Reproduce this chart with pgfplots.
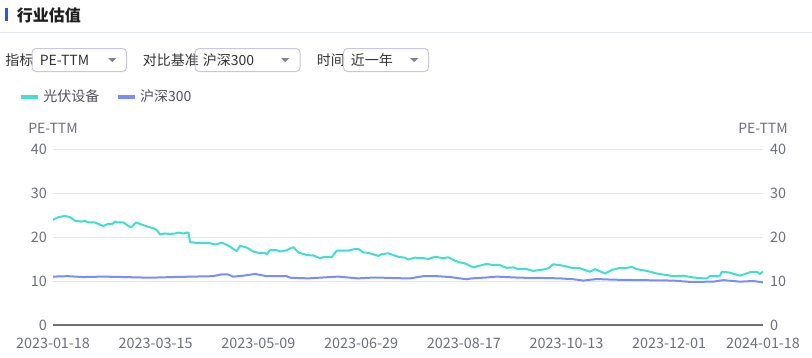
\documentclass[border=0pt]{standalone}
\usepackage{pgfplots}
\pgfplotsset{compat=1.18}
\usepackage{pgfplotstable}
\usepackage{fontspec}
\setmainfont{Noto Sans CJK SC}
\definecolor{cyanline}{RGB}{64,224,208}
\definecolor{blueline}{RGB}{122,140,255}
\definecolor{axisgray}{RGB}{110,112,121}
\definecolor{gridgray}{RGB}{226,230,241}
\definecolor{titleblue}{RGB}{47,84,235}
\definecolor{boxgray}{RGB}{200,200,216}
\definecolor{textdark}{RGB}{51,51,51}
\definecolor{legtext}{RGB}{80,80,92}
\definecolor{trigray}{RGB}{130,130,145}
\newcommand{\fs}[1]{\fontsize{#1}{#1}\selectfont}

% x = position along the year (0 = 2023-01-18, 710 = 2024-01-18)
\pgfplotstableread{
x y
0 23.9
5.3 24.5
12 24.8
17 24.5
22 23.7
28.7 23.5
32 23.7
35.3 23.3
42 23.3
50.3 22.5
55.3 23.0
58.7 22.9
62 23.5
65.3 23.3
70.3 23.3
77 22.3
78.7 22.3
83 23.3
90.3 22.7
97 22.2
100.3 22.0
103.7 21.6
107 20.6
112 20.8
117 20.7
122 20.8
125.3 21.0
130.3 20.8
133.7 21.0
135.5 21.0
137 18.8
140.3 18.8
143.7 18.6
152 18.7
157 18.6
162 18.3
168.7 18.7
172 18.4
177 17.8
183.7 16.8
187 18.0
193.7 17.6
200.3 16.7
205.3 16.4
212 16.4
213.7 16.1
217 17.0
223.7 17.0
227 16.7
233.7 17.0
240.3 17.7
245.3 16.5
253.7 15.9
260.3 15.8
267 15.2
272 15.5
278.7 15.4
283.7 16.9
288.7 16.9
295.3 16.9
300.3 17.2
305.3 17.3
310.3 16.5
315.3 16.4
325.3 15.7
328.7 16.1
335.3 16.3
340.3 15.9
345.3 15.5
352 15.3
355.3 14.9
362 15.3
370.3 15.2
375.3 15.0
382 15.5
390.3 15.2
395.3 15.4
400.3 14.8
405.3 14.3
412 14.0
420.3 13.1
425.3 13.4
433.7 13.9
440.3 13.6
447 13.6
453.7 13.0
460.3 13.1
465.3 12.7
473.7 12.7
480 12.3
487 12.5
490.3 12.6
495.3 12.9
500.3 13.8
507 13.6
513.7 13.3
520.3 12.9
527 12.9
537 12.1
542 12.7
552 11.7
558.7 12.5
567 13.0
572 12.9
578.7 13.2
583.7 12.7
593.7 12.3
603.7 11.7
620.3 11.1
630.3 11.2
640.3 10.8
650.3 10.6
654 10.6
657 11.1
667 11.2
668.7 12.1
677 11.9
687 11.2
697 12.0
703.7 12.1
707 11.6
710 12.2
}\pvtable

\pgfplotstableread{
x y
0 11.0
15 11.1
30 10.9
50 11.0
70 10.9
97 10.75
120 10.9
140 11.0
160 11.1
168.7 11.5
175 11.5
180 11.0
190 11.2
202 11.6
213.7 11.1
233.7 11.1
237 10.75
255 10.6
270 10.8
285 11.0
305 10.6
322 10.8
352 10.6
357 10.6
370.3 11.1
383.7 11.1
397 10.9
413.7 10.4
418.7 10.6
433.7 10.8
443.7 11.0
467 10.75
487 10.7
507 10.6
520.3 10.4
527 10.2
530.3 10.1
543.7 10.45
560 10.3
587 10.2
620 10.1
637 9.8
660.3 9.85
670.3 10.2
687 9.85
700 10.0
710 9.7
}\hstable

\begin{document}
\begin{tikzpicture}
\begin{scope}[x=0.75pt,y=-0.75pt]
\path[use as bounding box, fill=white] (0,0) rectangle (812,357);
% title
\fill[titleblue] (5,8) rectangle (7.5,21);
\node[anchor=west, inner sep=0pt, text=black!88] at (16.5,15) {\fs{12pt}\bfseries 行业估值};
\draw[gridgray, line width=0.75pt] (0,32) -- (812,32);
% controls
\node[anchor=west,inner sep=0pt,text=textdark] at (5,60) {\fs{10.5pt}指标};
\draw[boxgray, rounded corners=3pt, line width=0.75pt] (32,48.5) rectangle (126.5,71.5);
\node[anchor=west,inner sep=0pt,text=textdark] at (39.5,60) {\fs{10.5pt}PE-TTM};
\fill[trigray] (108,58) -- (116.5,58) -- (112.25,62) -- cycle;

\node[anchor=west,inner sep=0pt,text=textdark] at (142.5,60) {\fs{10.5pt}对比基准};
\draw[boxgray, rounded corners=3pt, line width=0.75pt] (195,48.5) rectangle (300,71.5);
\node[anchor=west,inner sep=0pt,text=textdark] at (202.5,60) {\fs{10.5pt}沪深300};
\fill[trigray] (281,58) -- (289.5,58) -- (285.25,62) -- cycle;

\node[anchor=west,inner sep=0pt,text=textdark] at (316.5,60) {\fs{10.5pt}时间};
\draw[boxgray, rounded corners=3pt, line width=0.75pt] (343.5,48.5) rectangle (428.5,71.5);
\node[anchor=west,inner sep=0pt,text=textdark] at (350.5,60) {\fs{10.5pt}近一年};
\fill[trigray] (410,58) -- (418.5,58) -- (414.25,62) -- cycle;
\end{scope}

\begin{axis}[
  at={(39.75pt,-243.75pt)}, anchor=south west,
  scale only axis, width=532.5pt, height=132pt,
  xmin=0, xmax=710, ymin=0, ymax=40,
  clip mode=individual,
  axis line style={draw=none},
  ytick={0,10,20,30,40},
  xtick={0,102.7,205.4,308.1,410.8,513.5,616.2,710},
  xticklabels={2023-01-18,2023-03-15,2023-05-09,2023-06-29,2023-08-17,2023-10-13,2023-12-01,2024-01-18},
  major tick length=0pt,
  ymajorgrids, grid style={gridgray, line width=0.75pt},
  tick label style={font=\fs{10.8pt}, text=axisgray},
  /pgf/number format/assume math mode=true,
  yticklabel style={xshift=-1pt},
  xticklabel style={yshift=-6.25pt},
  legend style={at={(-0.0475,1.2955)}, anchor=west, draw=none, fill=none,
    inner sep=0pt, outer sep=0pt, font=\fs{10.5pt}, text=legtext,
    legend columns=2, nodes={inner sep=0pt},
    /tikz/every odd column/.append style={column sep=3pt},
    /tikz/every even column/.append style={column sep=12.5pt}},
  legend image code/.code={\draw[#1,line width=2.3pt] (0pt,0pt) -- (12.75pt,0pt);},
]
\addplot[cyanline, line width=1.5pt, line join=round] table {\pvtable};
\addlegendentry{光伏设备}
\addplot[blueline, line width=1.5pt, line join=round] table {\hstable};
\addlegendentry{沪深300}
\draw[axisgray, line width=1.4pt] (rel axis cs:0,0) -- (rel axis cs:1,0);
\node[text=axisgray, font=\fs{10.5pt}] at (rel axis cs:0,1) [yshift=15.75pt] {PE-TTM};
\node[text=axisgray, font=\fs{10.5pt}] at (rel axis cs:1,1) [yshift=15.75pt] {PE-TTM};
\end{axis}

\begin{axis}[
  at={(39.75pt,-243.75pt)}, anchor=south west,
  scale only axis, width=532.5pt, height=132pt,
  xmin=0, xmax=710, ymin=0, ymax=40,
  axis line style={draw=none},
  ytick={0,10,20,30,40}, xtick=\empty,
  major tick length=0pt,
  yticklabel pos=right,
  tick label style={font=\fs{10.8pt}, text=axisgray},
  /pgf/number format/assume math mode=true,
  yticklabel style={xshift=1.75pt},
]
\end{axis}
\end{tikzpicture}
\end{document}
